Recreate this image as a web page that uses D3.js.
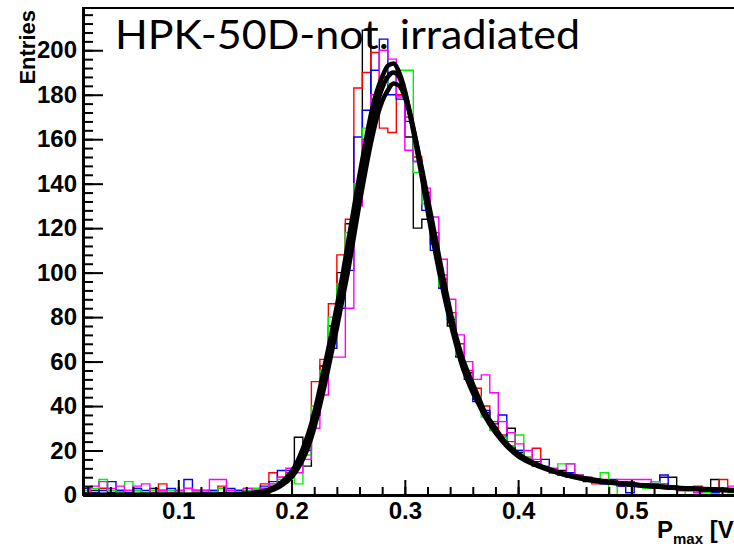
<!DOCTYPE html>
<html>
<head>
<meta charset="utf-8">
<script src="https://cdn.jsdelivr.net/npm/d3@7"></script>
<style>
    body { margin: 0; background: #fff; }
    #chart { width: 734px; height: 547px; overflow: hidden; }
</style>
</head>
<body>
<div id="chart"></div>
<script>
// Histogram binning (100 bins over 0 - 0.75), values below start at bin 2
const binStart = 0.015;
const binWidth = 0.0075;

// Axis ranges
const xMin = 0.0159, xMax = 0.595;
const yMax = 219;
const xMajorTicks = [0.1, 0.2, 0.3, 0.4, 0.5];
const yMajorTicks = [0, 20, 40, 60, 80, 100, 120, 140, 160, 180, 200];

// Entries per bin, one array per run
const histBlack = [
    1, 2, 3, 1, 2, 0, 2, 1, 3, 2,
    1, 2, 0, 1, 2, 1, 3, 1, 2, 1,
    2, 3, 4, 6, 8, 26, 13, 36, 58, 76,
    100, 122, 138, 209, 178, 188, 190, 180, 161, 120,
    124, 113, 97, 76, 62, 55, 43, 37, 30, 26,
    30, 19, 16, 13, 12, 10, 11, 8, 8, 6,
    7, 5, 6, 4, 5, 4, 3, 5, 8, 8,
    3, 2, 3, 2, 7, 3, 2, 2
];
const histRed = [
    2, 1, 3, 2, 1, 2, 3, 1, 2, 5,
    2, 1, 3, 2, 1, 2, 4, 2, 1, 3,
    3, 5, 10, 8, 10, 14, 22, 51, 61, 86,
    108, 124, 183, 190, 199, 165, 163, 180, 170, 152,
    136, 118, 99, 82, 68, 56, 48, 40, 33, 27,
    24, 20, 17, 21, 12, 11, 10, 9, 8, 7,
    5, 7, 6, 4, 6, 5, 4, 3, 5, 4,
    2, 3, 4, 2, 3, 7, 2, 3
];
const histBlue = [
    3, 1, 2, 6, 2, 1, 3, 2, 1, 2,
    3, 1, 7, 2, 1, 2, 1, 3, 2, 1,
    2, 4, 6, 11, 11, 15, 20, 36, 52, 66,
    84, 101, 161, 173, 191, 205, 180, 178, 168, 150,
    128, 110, 93, 79, 63, 52, 42, 38, 32, 36,
    22, 20, 16, 15, 16, 11, 9, 10, 8, 7,
    6, 5, 7, 4, 1, 4, 5, 6, 9, 4,
    3, 2, 2, 3, 1, 2, 2, 1
];
const histGreen = [
    2, 3, 7, 2, 1, 6, 2, 1, 2, 1,
    2, 1, 3, 1, 2, 1, 3, 2, 1, 2,
    3, 2, 5, 7, 9, 5, 18, 40, 56, 80,
    95, 118, 140, 165, 180, 186, 185, 191, 191, 145,
    131, 116, 94, 80, 63, 54, 44, 35, 29, 26,
    22, 27, 17, 14, 12, 11, 14, 14, 9, 8,
    6, 10, 0, 5, 4, 5, 3, 6, 4, 3,
    0, 2, 3, 1, 2, 2, 1, 2
];
const histMagenta = [
    1, 4, 6, 3, 4, 2, 4, 5, 1, 2,
    1, 2, 3, 2, 2, 7, 7, 2, 1, 3,
    2, 3, 5, 8, 12, 10, 16, 30, 45, 62,
    62, 84, 130, 160, 180, 200, 196, 179, 155, 150,
    138, 125, 106, 88, 72, 60, 52, 54, 46, 33,
    28, 23, 20, 16, 13, 12, 10, 14, 9, 8,
    7, 6, 5, 7, 7, 7, 7, 4, 3, 4,
    2, 3, 1, 3, 2, 2, 4, 3
];

// Fit curves (shared x positions)
const fitX = [
    0.016, 0.10, 0.14, 0.16, 0.17,
    0.18, 0.185, 0.19, 0.195, 0.20, 0.205, 0.21, 0.215, 0.22, 0.225,
    0.23, 0.235, 0.24, 0.245, 0.25, 0.255, 0.26, 0.265, 0.27, 0.275,
    0.28, 0.285, 0.29, 0.295, 0.30, 0.305, 0.31, 0.315, 0.32, 0.325,
    0.33, 0.335, 0.34, 0.345, 0.35, 0.355, 0.36, 0.365, 0.37,
    0.38, 0.39, 0.40, 0.41, 0.42, 0.43, 0.44, 0.45, 0.46,
    0.48, 0.50, 0.52, 0.54, 0.56, 0.58, 0.60, 0.62
];
const fitHigh = [
    0, 0, 0.1, 0.6, 1.2,
    2.4, 3.5, 5.2, 7.5, 10.5, 15, 21, 28, 37, 48,
    60, 72, 85, 99, 114, 129, 144, 158, 171, 181,
    188, 193, 194, 190, 182, 170, 157, 143, 128, 114,
    101, 89, 78, 68, 59, 52, 46, 41, 36,
    28, 22, 17.5, 14.6, 12.5, 10.7, 9.2, 8, 7,
    5.6, 4.6, 3.8, 3.1, 2.6, 2.2, 1.9, 1.6
];
const fitMid = [
    0, 0, 0.1, 0.5, 1,
    2, 3, 4.5, 6.5, 9, 13, 18, 25, 34, 44,
    56, 68, 80, 93, 107, 122, 138, 152, 165, 175,
    183, 188, 190, 188, 181, 171, 159, 146, 132, 118,
    105, 92, 80, 70, 61, 54, 48, 42, 37,
    29, 22.5, 18, 15, 12.8, 11, 9.4, 8.2, 7.2,
    5.8, 4.7, 3.9, 3.2, 2.7, 2.3, 2.0, 1.7
];
const fitLow = [
    0, 0, 0.05, 0.4, 0.8,
    1.7, 2.6, 3.9, 5.7, 8, 11.5, 16, 22, 30, 40,
    51, 63, 75, 88, 101, 116, 131, 145, 158, 169,
    177, 182, 185, 184, 179, 170, 159, 147, 134, 121,
    108, 95, 83, 72, 63, 56, 50, 44, 38,
    30, 23, 18.5, 15.4, 13, 11.2, 9.6, 8.4, 7.4,
    5.9, 4.8, 4.0, 3.3, 2.8, 2.4, 2.1, 1.8
];

const histograms = [
    { values: histBlack, color: '#000000' },
    { values: histRed, color: '#ff0000' },
    { values: histBlue, color: '#0000ff' },
    { values: histGreen, color: '#00f000' },
    { values: histMagenta, color: '#ff00ff' }
];
const fits = [fitHigh, fitMid, fitLow];

let margin = { top: 8, right: -5, bottom: 52, left: 83 };
let fullWidth = 734, fullHeight = 547;
let width = fullWidth - margin.left - margin.right;
let height = fullHeight - margin.top - margin.bottom;

let svg = d3.select('#chart').append('svg')
    .attr('width', fullWidth)
    .attr('height', fullHeight)
    .style('font-family', '"Liberation Sans", Arial, Helvetica, sans-serif');

let g = svg.append('g')
    .attr('transform', 'translate(' + margin.left + ',' + margin.top + ')');

let x = d3.scaleLinear().domain([xMin, xMax]).range([0, width]);
let y = d3.scaleLinear().domain([0, yMax]).range([height, 0]);

g.append('clipPath').attr('id', 'frame-clip')
    .append('rect')
    .attr('x', 0).attr('y', 0)
    .attr('width', width).attr('height', height);

let plot = g.append('g').attr('clip-path', 'url(#frame-clip)');

// Step outlines like ROOT histograms
function stepPoints(values) {
    let pts = [];
    values.forEach(function(c, i) {
        let lo = binStart + i * binWidth;
        pts.push([lo, c]);
        pts.push([lo + binWidth, c]);
    });
    return pts;
}

let stepLine = d3.line()
    .x(function(d) { return x(d[0]); })
    .y(function(d) { return y(d[1]); });

histograms.forEach(function(h) {
    plot.append('path')
        .datum(stepPoints(h.values))
        .attr('d', stepLine)
        .style('fill', 'none')
        .style('stroke', h.color)
        .style('stroke-width', 1.4);
});

let fitLine = d3.line()
    .x(function(d) { return x(d[0]); })
    .y(function(d) { return y(d[1]); })
    .curve(d3.curveMonotoneX);

fits.forEach(function(f) {
    plot.append('path')
        .datum(fitX.map(function(v, i) { return [v, f[i]]; }))
        .attr('d', fitLine)
        .style('fill', 'none')
        .style('stroke', '#000')
        .style('stroke-width', 4.5);
});

// Frame
g.append('rect')
    .attr('x', 0).attr('y', 0)
    .attr('width', width).attr('height', height)
    .style('fill', 'none')
    .style('stroke', '#000')
    .style('stroke-width', 2);

// Y axis: major + minor ticks pointing inside
let yMinor = d3.range(0, yMax, 4);
g.append('g')
    .attr('class', 'y-minor')
    .call(d3.axisLeft(y).tickValues(yMinor).tickSizeInner(-10).tickSizeOuter(0).tickFormat(''));
let yAxis = g.append('g')
    .attr('class', 'y-axis')
    .call(d3.axisLeft(y).tickValues(yMajorTicks).tickSizeInner(-20).tickSizeOuter(0).tickPadding(6));

// X axis
let xMinor = d3.range(0.02, xMax, 0.02);
g.append('g')
    .attr('class', 'x-minor')
    .attr('transform', 'translate(0,' + height + ')')
    .call(d3.axisBottom(x).tickValues(xMinor).tickSizeInner(-8).tickSizeOuter(0).tickFormat(''));
let xAxis = g.append('g')
    .attr('class', 'x-axis')
    .attr('transform', 'translate(0,' + height + ')')
    .call(d3.axisBottom(x).tickValues(xMajorTicks).tickSizeInner(-15).tickSizeOuter(0).tickPadding(7)
        .tickFormat(d3.format('.1f')));

g.selectAll('.tick line').style('stroke', '#000').style('stroke-width', 2);
g.selectAll('.domain').style('stroke', '#000').style('stroke-width', 3);
g.selectAll('.y-axis text, .x-axis text')
    .style('font-size', '24px')
    .style('font-weight', 'bold')
    .style('font-family', '"Liberation Sans", Arial, sans-serif')
    .style('fill', '#000');

// Axis titles
svg.append('text')
    .attr('transform', 'translate(35,10) rotate(-90)')
    .attr('text-anchor', 'end')
    .style('font-size', '22px')
    .style('font-weight', 'bold')
    .text('Entries');

let xTitle = svg.append('text')
    .attr('x', 657)
    .attr('y', 538)
    .style('font-size', '24px')
    .style('font-weight', 'bold');
xTitle.append('tspan').text('P');
xTitle.append('tspan').attr('dy', 6).style('font-size', '15px').text('max');
xTitle.append('tspan').attr('dy', -6).text(' [V]');

// Slide title
svg.append('text')
    .attr('x', 115)
    .attr('y', 49)
    .attr('textLength', 465)
    .attr('lengthAdjust', 'spacingAndGlyphs')
    .style('font-family', 'Lato, "Open Sans", sans-serif')
    .style('font-size', '40px')
    .style('fill', '#000')
    .text('HPK-50D-not. irradiated');
</script>
</body>
</html>
